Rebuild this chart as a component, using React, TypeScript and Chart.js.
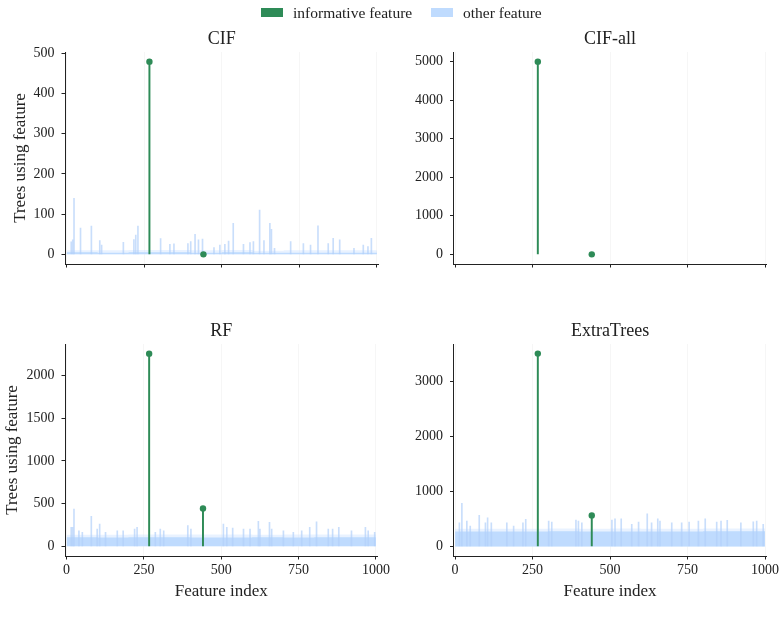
import React, { useEffect, useRef } from "react";
import { Chart, registerables } from "chart.js";
Chart.register(...registerables);

// ---------------- data ----------------
const FEATURE_TICKS = [0, 250, 500, 750, 1000];
const INFORMATIVE_FEATURES = [267, 441];

const CIF_INFORMATIVE = [479, 0];
const CIFALL_INFORMATIVE = [5000, 0];
const RF_INFORMATIVE = [2257, 444];
const ET_INFORMATIVE = [3509, 564];

// typical level of the dense "other feature" bars, per block of 100 features
const BAND_EDGES = [0, 100, 200, 300, 400, 500, 600, 700, 800, 900];
const CIF_BAND_BASE = [5, 5, 4, 5, 5, 4, 5, 4, 4, 4];
const CIF_BAND_TOP = [11, 10, 10, 11, 11, 10, 11, 9, 10, 10];
const RF_BAND_BASE = [108, 106, 105, 106, 107, 105, 105, 106, 104, 107];
const RF_BAND_TOP = [138, 135, 135, 138, 140, 138, 140, 135, 138, 140];
const ET_BAND_BASE = [275, 272, 270, 272, 274, 272, 272, 270, 272, 274];
const ET_BAND_TOP = [325, 320, 320, 322, 325, 322, 325, 320, 322, 325];

// individual tall "other feature" bars
const CIF_SPIKE_FEATURES = [15, 20, 24, 45, 80, 107, 113, 183, 217, 223, 230, 303, 333, 346, 391, 400, 414, 425, 438, 475, 494, 510, 522, 537, 570, 591, 602, 622, 636, 655, 660, 670, 722, 763, 786, 810, 843, 859, 880, 926, 956, 971, 982];
const CIF_SPIKE_COUNTS = [31, 36, 139, 65, 70, 34, 23, 30, 37, 48, 70, 39, 25, 26, 27, 32, 50, 36, 38, 17, 23, 25, 33, 77, 25, 29, 32, 110, 34, 77, 62, 15, 32, 27, 23, 71, 27, 40, 36, 15, 23, 19, 40];

const RF_SPIKE_FEATURES = [15, 20, 24, 40, 51, 80, 99, 107, 126, 164, 183, 220, 228, 287, 303, 314, 392, 402, 507, 518, 537, 572, 593, 620, 625, 656, 663, 701, 733, 760, 786, 808, 846, 860, 880, 921, 966, 975, 996];
const RF_SPIKE_COUNTS = [222, 222, 437, 183, 164, 351, 203, 261, 164, 183, 183, 203, 222, 164, 203, 183, 242, 203, 261, 222, 214, 203, 203, 292, 203, 281, 203, 183, 164, 183, 222, 288, 203, 203, 222, 183, 222, 183, 164];

const ET_SPIKE_FEATURES = [14, 22, 38, 49, 78, 98, 105, 117, 167, 189, 219, 228, 302, 312, 390, 398, 409, 506, 516, 536, 570, 592, 620, 634, 654, 661, 699, 731, 755, 785, 807, 844, 858, 878, 922, 962, 973, 994];
const ET_SPIKE_COUNTS = [430, 782, 460, 370, 564, 430, 521, 430, 430, 370, 430, 491, 460, 442, 479, 460, 430, 479, 503, 503, 400, 442, 594, 430, 503, 460, 430, 430, 442, 460, 503, 442, 460, 473, 430, 448, 460, 400];

const CIF_Y_TICKS = [0, 100, 200, 300, 400, 500];
const CIFALL_Y_TICKS = [0, 1000, 2000, 3000, 4000, 5000];
const RF_Y_TICKS = [0, 500, 1000, 1500, 2000];
const ET_Y_TICKS = [0, 1000, 2000, 3000];

// ---------------- styling ----------------
const FONT = "'Liberation Serif', 'DejaVu Serif', serif";
const GREEN = "#2e8b57";
const BLUE = "#bfdbfe";
const INK = "#222222";

type PanelSpec = {
  title: string;
  informative: number[];
  spikeX: number[];
  spikeY: number[];
  bandBase: number[] | null;
  bandTop: number[] | null;
  yMin: number;
  yMax: number;
  yTicks: number[];
  yTitle: boolean;
  yTitlePad: number;
  xLabels: boolean;
  yWidth: number;
  padRight: number;
  xHeight: number;
};

function bandPoints(values: number[]) {
  const pts = BAND_EDGES.map((e, i) => ({ x: e, y: values[i] }));
  pts.push({ x: 1000, y: values[values.length - 1] });
  return pts;
}

function makeConfig(p: PanelSpec): any {
  const datasets: any[] = [];
  if (p.bandTop) {
    datasets.push({
      type: "line",
      data: bandPoints(p.bandTop),
      stepped: "after",
      fill: "origin",
      backgroundColor: "rgba(191,219,254,0.35)",
      borderWidth: 0,
      pointRadius: 0,
      order: 5,
    });
  }
  if (p.bandBase) {
    datasets.push({
      type: "line",
      data: bandPoints(p.bandBase),
      stepped: "after",
      fill: "origin",
      backgroundColor: BLUE,
      borderWidth: 0,
      pointRadius: 0,
      order: 4,
    });
  }
  if (p.spikeX.length) {
    datasets.push({
      type: "bar",
      data: p.spikeX.map((x, i) => ({ x, y: p.spikeY[i] })),
      backgroundColor: "rgba(178,208,250,0.7)",
      barThickness: 1,
      grouped: false,
      order: 3,
    });
  }
  datasets.push({
    type: "bar",
    data: INFORMATIVE_FEATURES.map((x, i) => ({ x, y: p.informative[i] })),
    backgroundColor: GREEN,
    barThickness: 1.3,
    grouped: false,
    order: 2,
  });
  datasets.push({
    type: "scatter",
    data: INFORMATIVE_FEATURES.map((x, i) => ({ x, y: p.informative[i] })),
    backgroundColor: GREEN,
    borderWidth: 0,
    pointRadius: 3.2,
    order: 1,
  });

  return {
    type: "bar",
    data: { datasets },
    options: {
      animation: false,
      responsive: false,
      events: [],
      layout: { padding: { left: 0, right: p.padRight, top: 0, bottom: 0 } },
      plugins: {
        legend: { display: false },
        tooltip: { enabled: false },
        title: {
          display: true,
          text: p.title,
          fullSize: false,
          color: INK,
          font: { family: FONT, size: 18, weight: "normal" },
          padding: { top: 28, bottom: 2.4 },
        },
      },
      scales: {
        x: {
          type: "linear",
          min: -5,
          max: 1005,
          offset: false,
          afterBuildTicks: (s: any) => {
            s.ticks = FEATURE_TICKS.map((v) => ({ value: v }));
          },
          afterFit: (s: any) => {
            s.height = p.xHeight;
          },
          ticks: {
            color: INK,
            font: { family: FONT, size: 14 },
            padding: 2,
            maxRotation: 0,
            callback: (v: any) => (p.xLabels ? String(v) : ""),
          },
          grid: {
            offset: false,
            color: "rgba(0,0,0,0.035)",
            lineWidth: 1,
            tickColor: INK,
            tickLength: 3.5,
            drawTicks: true,
          },
          border: { display: true, color: INK, width: 1 },
          title: {
            display: p.xLabels,
            text: "Feature index",
            color: INK,
            font: { family: FONT, size: 17 },
            padding: { top: 0, bottom: 27 },
          },
        },
        y: {
          type: "linear",
          min: p.yMin,
          max: p.yMax,
          afterBuildTicks: (s: any) => {
            s.ticks = p.yTicks.map((v) => ({ value: v }));
          },
          afterFit: (s: any) => {
            s.width = p.yWidth;
          },
          ticks: {
            color: INK,
            font: { family: FONT, size: 14 },
            padding: 7,
            callback: (v: any) => String(v),
          },
          grid: {
            drawOnChartArea: false,
            tickColor: INK,
            tickLength: 3.5,
            drawTicks: true,
          },
          border: { display: true, color: INK, width: 1 },
          title: {
            display: p.yTitle,
            text: "Trees using feature",
            color: INK,
            font: { family: FONT, size: 17 },
            padding: { top: p.yTitlePad, bottom: 0 },
          },
        },
      },
    },
  };
}

function Panel(props: { left: number; top: number; width: number; height: number; spec: PanelSpec }) {
  const ref = useRef<HTMLCanvasElement | null>(null);
  useEffect(() => {
    const chart = new Chart(ref.current as HTMLCanvasElement, makeConfig(props.spec));
    return () => chart.destroy();
  }, []);
  return (
    <div style={{ position: "absolute", left: props.left, top: props.top, width: props.width, height: props.height }}>
      <canvas ref={ref} width={props.width} height={props.height} style={{ display: "block", width: props.width, height: props.height }} />
    </div>
  );
}

const panels: { left: number; top: number; height: number; spec: PanelSpec }[] = [
  {
    left: 0, top: 0, height: 300,
    spec: {
      title: "CIF", informative: CIF_INFORMATIVE, spikeX: CIF_SPIKE_FEATURES, spikeY: CIF_SPIKE_COUNTS,
      bandBase: CIF_BAND_BASE, bandTop: CIF_BAND_TOP, yMin: -24, yMax: 503, yTicks: CIF_Y_TICKS,
      yTitle: true, yTitlePad: 10.5, xLabels: false, yWidth: 65, padRight: 13.5, xHeight: 36,
    },
  },
  {
    left: 392, top: 0, height: 300,
    spec: {
      title: "CIF-all", informative: CIFALL_INFORMATIVE, spikeX: [], spikeY: [],
      bandBase: null, bandTop: null, yMin: -250, yMax: 5250, yTicks: CIFALL_Y_TICKS,
      yTitle: false, yTitlePad: 0, xLabels: false, yWidth: 61.5, padRight: 17.4, xHeight: 36,
    },
  },
  {
    left: 0, top: 292, height: 337,
    spec: {
      title: "RF", informative: RF_INFORMATIVE, spikeX: RF_SPIKE_FEATURES, spikeY: RF_SPIKE_COUNTS,
      bandBase: RF_BAND_BASE, bandTop: RF_BAND_TOP, yMin: -113, yMax: 2370, yTicks: RF_Y_TICKS,
      yTitle: true, yTitlePad: 2.8, xLabels: true, yWidth: 65, padRight: 13.5, xHeight: 73,
    },
  },
  {
    left: 392, top: 292, height: 337,
    spec: {
      title: "ExtraTrees", informative: ET_INFORMATIVE, spikeX: ET_SPIKE_FEATURES, spikeY: ET_SPIKE_COUNTS,
      bandBase: ET_BAND_BASE, bandTop: ET_BAND_TOP, yMin: -175, yMax: 3684, yTicks: ET_Y_TICKS,
      yTitle: false, yTitlePad: 0, xLabels: true, yWidth: 61.5, padRight: 17.4, xHeight: 73,
    },
  },
];

function LegendItem(props: { left: number; color: string; label: string }) {
  return (
    <div style={{ position: "absolute", left: props.left, top: 0, height: 25, display: "flex", alignItems: "center" }}>
      <div style={{ width: 22, height: 9, background: props.color, marginRight: 10 }} />
      <span style={{ fontFamily: FONT, fontSize: 15.5, color: INK, whiteSpace: "nowrap", lineHeight: "25px" }}>{props.label}</span>
    </div>
  );
}

export default function App() {
  return (
    <div style={{ position: "fixed", left: 0, top: 0, width: 784, height: 629, background: "#fff", overflow: "hidden" }}>
      {panels.map((p, i) => (
        <Panel key={i} left={p.left} top={p.top} width={392} height={p.height} spec={p.spec} />
      ))}
      <LegendItem left={261} color={GREEN} label="informative feature" />
      <LegendItem left={431} color={BLUE} label="other feature" />
    </div>
  );
}
